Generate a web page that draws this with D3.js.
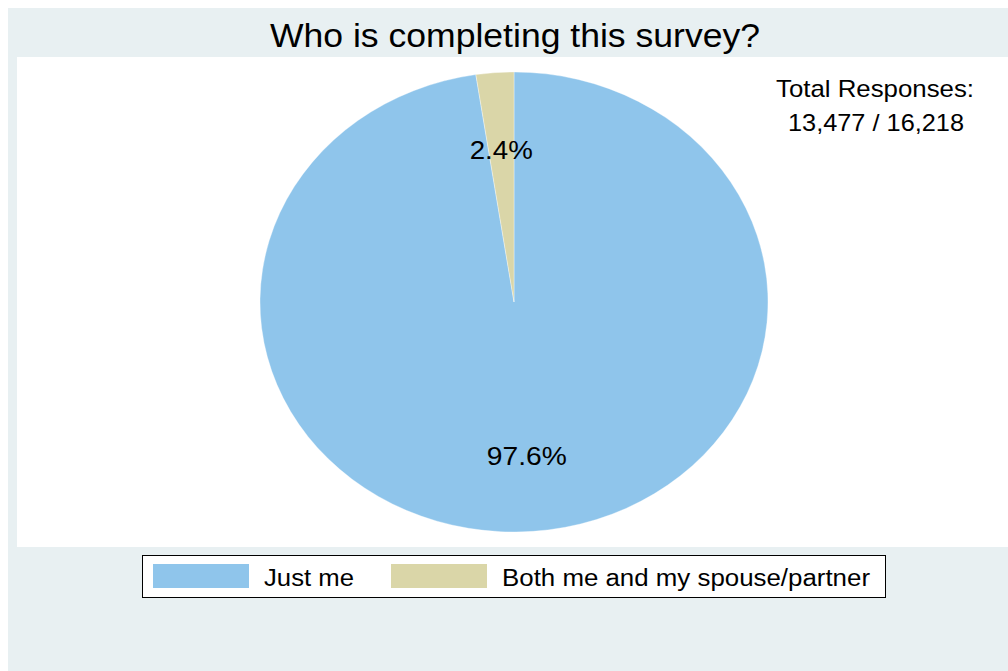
<!DOCTYPE html>
<html>
<head>
<meta charset="utf-8">
<script src="https://cdn.jsdelivr.net/npm/d3@7"></script>
<style>
  html, body { margin: 0; padding: 0; background: #ffffff; }
  svg { display: block; font-family: "Liberation Sans", Arial, sans-serif; }
</style>
</head>
<body>
<svg id="chart" width="1008" height="671"></svg>
<script>
// Survey response shares
const categories = ["Just me", "Both me and my spouse/partner"];
const shares = [97.6, 2.4];
const colors = ["#8fc5eb", "#dad6a8"];
const titleText = "Who is completing this survey?";
const noteLines = ["Total Responses:", "13,477 / 16,218"];

const svg = d3.select("#chart");
const W = 1008, H = 671;

// Text is drawn slightly wide; fit each string to a target width
function fitText(sel, width) {
  sel.attr("textLength", width).attr("lengthAdjust", "spacingAndGlyphs");
}

// Outer graph region and inner plot region
svg.append("rect").attr("x", 8).attr("y", 8).attr("width", W - 8).attr("height", H - 8)
  .attr("fill", "#e8f0f2");
svg.append("rect").attr("x", 17).attr("y", 57).attr("width", W - 17).attr("height", 490)
  .attr("fill", "#ffffff");

// Title
svg.append("text").attr("x", 515).attr("y", 47).attr("text-anchor", "middle")
  .attr("font-size", 34).attr("fill", "#000").text(titleText)
  .call(fitText, 490);

// Pie (elliptical, as drawn in the plot region)
const cx = 514, cy = 302, rx = 254, ry = 230;
const pie = d3.pie().sort(null).value(d => d);
const arcs = pie(shares);
const arc = d3.arc().innerRadius(0).outerRadius(rx);
const g = svg.append("g").attr("transform", `translate(${cx},${cy}) scale(1,${ry / rx})`);
g.selectAll("path").data(arcs).join("path")
  .attr("d", arc)
  .attr("fill", (d, i) => colors[i])
  .attr("stroke", "#ffffff").attr("stroke-width", 0.6).attr("stroke-opacity", 0.6);

// Slice labels
const labelWidths = [80, 63];
const labelArc = d3.arc().innerRadius(rx * 0.667).outerRadius(rx * 0.667);
svg.append("g").selectAll("text").data(arcs).join("text")
  .attr("x", d => cx + labelArc.centroid(d)[0])
  .attr("y", d => cy + labelArc.centroid(d)[1] * ry / rx + 10)
  .attr("text-anchor", "middle")
  .attr("font-size", 26).attr("fill", "#000")
  .text(d => d.data.toFixed(1) + "%")
  .each(function (d, i) { d3.select(this).call(fitText, labelWidths[i]); });

// Note in upper right
const noteX = [875, 876], noteY = [97, 131], noteW = [198, 176];
svg.append("g").selectAll("text").data(noteLines).join("text")
  .attr("x", (d, i) => noteX[i])
  .attr("y", (d, i) => noteY[i])
  .attr("text-anchor", "middle")
  .attr("font-size", 24).attr("fill", "#000")
  .text(d => d)
  .each(function (d, i) { d3.select(this).call(fitText, noteW[i]); });

// Legend
const legend = svg.append("g");
legend.append("rect").attr("x", 142.5).attr("y", 555.5).attr("width", 743).attr("height", 42)
  .attr("fill", "#ffffff").attr("stroke", "#000").attr("stroke-width", 1);
const legendX = [153, 391], legendW = [90, 368];
const items = legend.selectAll("g.item").data(categories).join("g").attr("class", "item")
  .attr("transform", (d, i) => `translate(${legendX[i]},0)`);
items.append("rect").attr("x", 0).attr("y", 564).attr("width", 96).attr("height", 24)
  .attr("fill", (d, i) => colors[i]);
items.append("text").attr("x", 111).attr("y", 586)
  .attr("font-size", 23).attr("fill", "#000").text(d => d)
  .each(function (d, i) { d3.select(this).call(fitText, legendW[i]); });
</script>
</body>
</html>
